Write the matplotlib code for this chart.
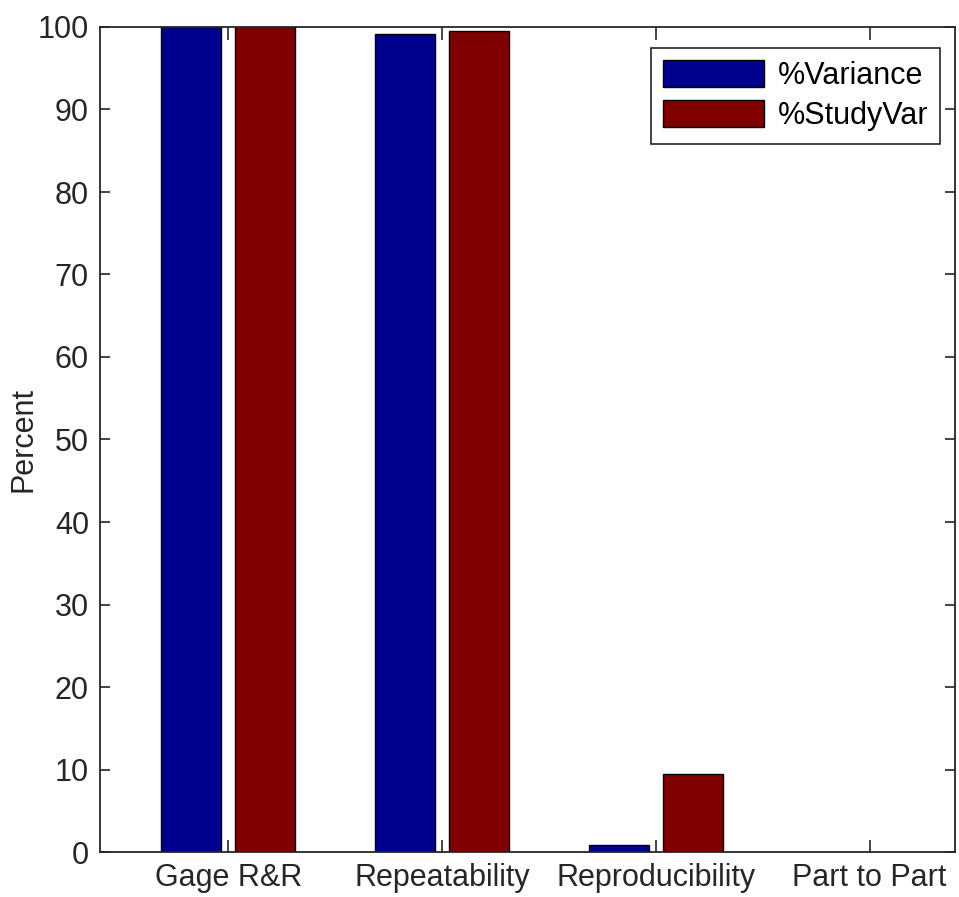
import matplotlib
matplotlib.use("Agg")
import matplotlib.pyplot as plt
import numpy as np

categories = ["Gage R&R", "Repeatability", "Reproducibility", "Part to Part"]
pct_variance = [100.0, 99.1, 0.9, 0.0]
pct_studyvar = [100.0, 99.55, 9.49, 0.0]
series_labels = ["%Variance", "%StudyVar"]
yticks = list(range(0, 101, 10))

plt.rcParams['font.family'] = ['Liberation Sans', 'DejaVu Sans']

FS = 22
fig = plt.figure(figsize=(9.59, 8.97), dpi=100)
ax = fig.add_axes([100/959, 45/897, 855/959, 825/897])

x = np.arange(1, len(categories) + 1)
w = 0.28
off = 0.173
ax.bar(x - off, pct_variance, width=w, color="#00008F", edgecolor="black",
       linewidth=1.0, label=series_labels[0])
ax.bar(x + off, pct_studyvar, width=w, color="#800000", edgecolor="black",
       linewidth=1.0, label=series_labels[1])

ax.set_xlim(0.4, 4.4)
ax.set_ylim(0, 100)
ax.set_xticks(x)
ax.set_xticklabels(categories)
ax.set_yticks(yticks)
ylab = ax.set_ylabel("Percent", fontsize=FS, color="#262626")
ylab.set_verticalalignment("center")
ax.yaxis.set_label_coords(-0.089, 0.50)

ax.tick_params(axis='both', direction='in', width=1.2,
               top=True, right=True, labelsize=FS, colors="#262626")
ax.tick_params(axis='y', length=7, pad=8)
ax.tick_params(axis='x', length=9, pad=8)
for s in ax.spines.values():
    s.set_linewidth(1.3)
    s.set_color("#262626")

leg = ax.legend(loc="upper right", bbox_to_anchor=(0.983, 0.975),
                fontsize=FS, frameon=True, fancybox=False,
                edgecolor="#262626", framealpha=1, handlelength=3.3,
                handleheight=1.0, handletextpad=0.45, borderpad=0.4,
                labelspacing=0.3, borderaxespad=0)
leg.get_frame().set_linewidth(1.2)

fig.savefig("out.png", dpi=100)
